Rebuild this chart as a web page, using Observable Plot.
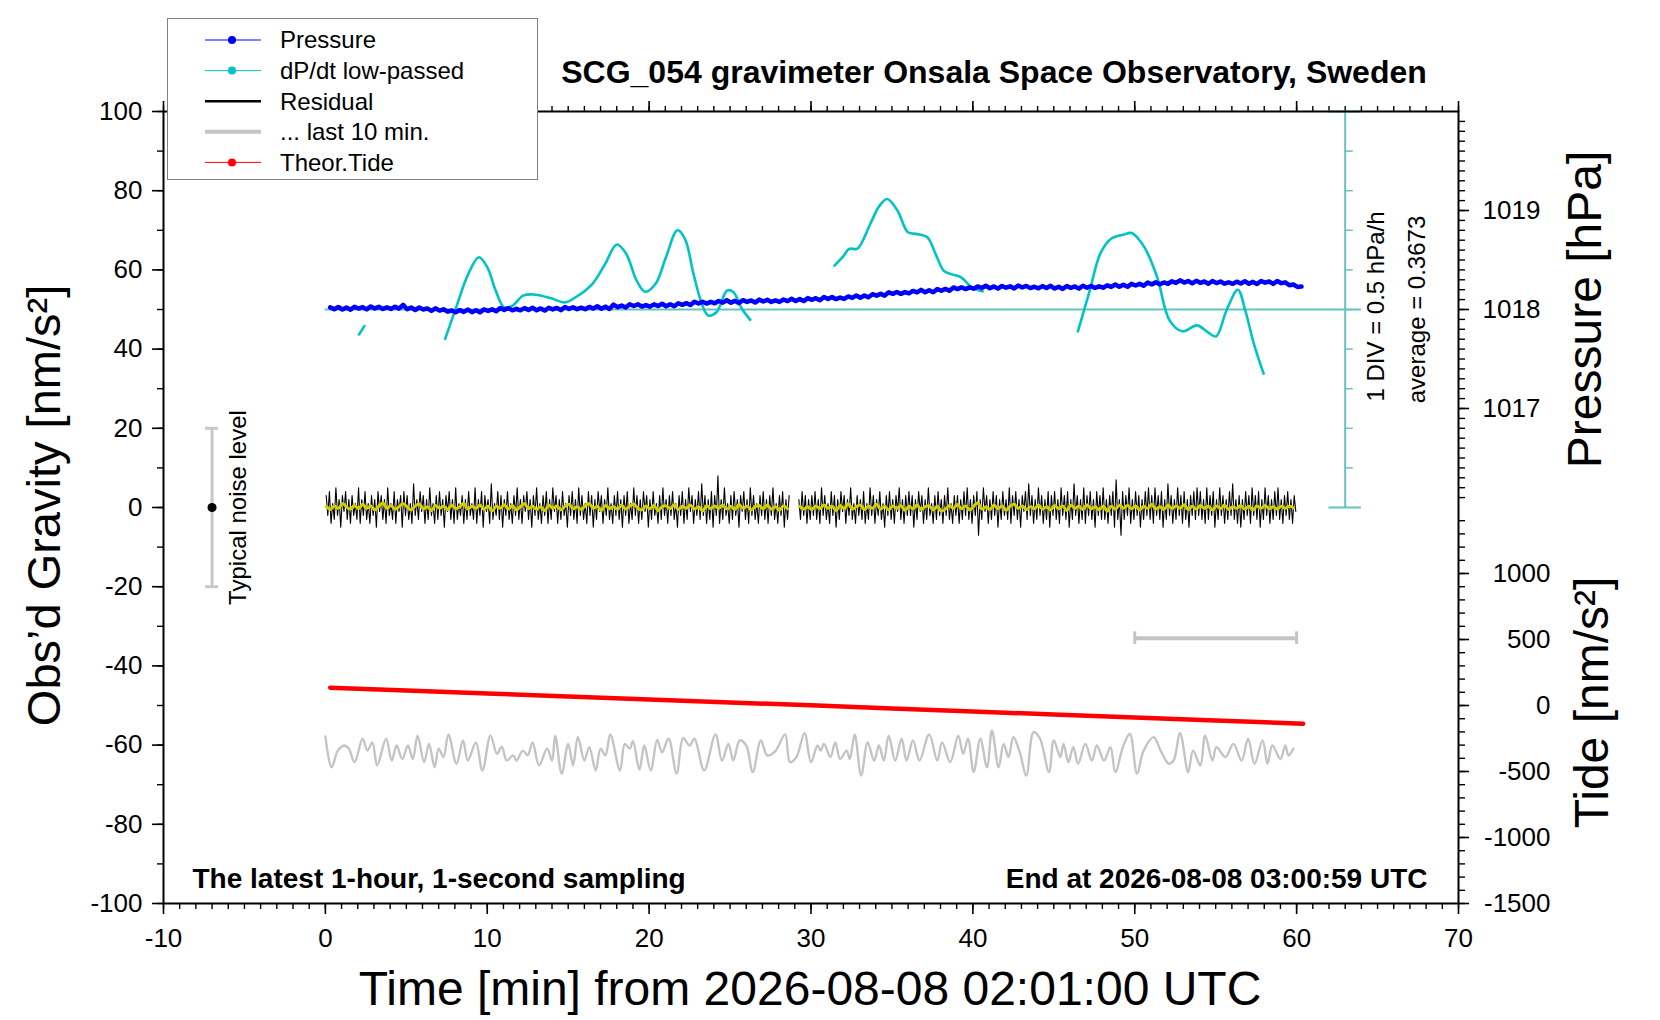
<!DOCTYPE html>
<html><head><meta charset="utf-8">
<script src="https://cdn.jsdelivr.net/npm/d3@7"></script>
<script src="https://cdn.jsdelivr.net/npm/@observablehq/plot@0.6"></script>
<style>
html,body{margin:0;padding:0;background:#fff;}
#wrap{position:relative;width:1660px;height:1020px;font-family:"Liberation Sans",Arial,sans-serif;}
#legend{position:absolute;left:167px;top:18px;width:371px;height:162px;border:1px solid #808080;background:#fff;box-sizing:border-box;}
</style></head><body><div id="wrap"></div>
<script>
// ---------------- texts ----------------
const TITLE = "SCG_054 gravimeter Onsala Space Observatory, Sweden";
const X_TITLE = "Time [min] from 2026-08-08 02:01:00 UTC";
const Y_TITLE = "Obs\u2019d Gravity [nm/s\u00b2]";
const P_TITLE = "Pressure [hPa]";
const TIDE_TITLE = "Tide [nm/s\u00b2]";
const NOTE_LEFT = "The latest 1-hour, 1-second sampling";
const NOTE_RIGHT = "End at 2026-08-08 03:00:59 UTC";
const NOISE_LABEL = "Typical noise level";
const DIV_LABEL = "1 DIV = 0.5 hPa/h";
const LEGEND_LABELS = ["Pressure", "dP/dt low-passed", "Residual", "... last 10 min.", "Theor.Tide"];

// ---------------- ticks ----------------
const X_MAJOR = [-10, 0, 10, 20, 30, 40, 50, 60, 70];
const G_MAJOR = [-100, -80, -60, -40, -20, 0, 20, 40, 60, 80, 100];
const P_MAJOR = [1017, 1018, 1019];
const T_MAJOR = [-1500, -1000, -500, 0, 500, 1000];

// ---------------- scale relations ----------------
const P_REF = 1018, P_REF_G = 50, G_PER_HPA = 25;        // pressure axis
const TIDE_REF_G = -50, TIDE_PER_G = 30;                   // tide axis
const DPDT_AVG = 0.3673, DPDT_DIV = 0.5, G_PER_DIV = 10;   // dP/dt scale bar
const DPDT_BAR_T = 63;

// ---------------- data ----------------
// Pressure (hPa), sampled every 0.25 min from t = 0.3 min
const P_T0 = 0.3, P_DT = 0.25;
const PRESSURE = [
1018.021,1018.003,1018.026,1018.000,1018.019,1017.998,1018.027,1018.010,1018.024,1018.001,
1018.031,1018.010,1018.027,1018.006,1018.021,1018.006,1018.028,1018.009,1018.047,1018.002,
1018.020,1017.995,1018.020,1018.000,1018.011,1017.986,1018.012,1017.989,1018.002,1017.978,
1017.990,1017.972,1017.994,1017.976,1017.999,1017.973,1017.992,1017.971,1018.001,1017.986,
1018.002,1017.982,1018.014,1017.996,1018.013,1017.992,1018.007,1017.992,1018.014,1017.996,
1018.018,1017.992,1018.011,1017.989,1018.018,1018.001,1018.016,1017.994,1018.025,1018.006,
1018.023,1018.003,1018.018,1018.003,1018.026,1018.009,1018.033,1018.008,1018.029,1018.005,
1018.050,1018.024,1018.040,1018.021,1018.053,1018.035,1018.052,1018.030,1018.045,1018.029,
1018.052,1018.035,1018.058,1018.033,1018.053,1018.033,1018.063,1018.047,1018.064,1018.045,
1018.078,1018.060,1018.079,1018.060,1018.077,1018.063,1018.086,1018.069,1018.093,1018.068,
1018.087,1018.066,1018.094,1018.077,1018.091,1018.070,1018.100,1018.081,1018.098,1018.077,
1018.092,1018.077,1018.101,1018.085,1018.109,1018.085,1018.105,1018.085,1018.115,1018.098,
1018.114,1018.094,1018.126,1018.107,1018.125,1018.105,1018.121,1018.107,1018.132,1018.117,
1018.142,1018.119,1018.141,1018.123,1018.155,1018.140,1018.158,1018.140,1018.174,1018.158,
1018.177,1018.158,1018.176,1018.163,1018.188,1018.173,1018.198,1018.174,1018.195,1018.175,
1018.206,1018.190,1018.208,1018.189,1018.223,1018.206,1018.225,1018.206,1018.223,1018.210,
1018.233,1018.217,1018.240,1018.215,1018.233,1018.211,1018.238,1018.220,1018.234,1018.212,
1018.242,1018.222,1018.238,1018.216,1018.230,1018.214,1018.236,1018.217,1018.239,1018.212,
1018.230,1018.208,1018.237,1018.219,1018.233,1018.211,1018.240,1018.220,1018.238,1018.218,
1018.234,1018.220,1018.244,1018.228,1018.253,1018.229,1018.249,1018.229,1018.259,1018.242,
1018.259,1018.239,1018.272,1018.254,1018.274,1018.255,1018.273,1018.260,1018.285,1018.270,
1018.295,1018.272,1018.288,1018.264,1018.290,1018.270,1018.283,1018.260,1018.288,1018.267,
1018.283,1018.261,1018.275,1018.259,1018.281,1018.263,1018.286,1018.260,1018.279,1018.258,
1018.288,1018.271,1018.283,1018.259,1018.288,1018.266,1018.274,1018.245,1018.252,1018.228,
1018.232];

// dP/dt low-passed (hPa/h), four pieces
const DPDT_SEG = [1,1,1,
 2,2,2,2,2,2,2,2,2,2,2,2,2,2,2,2,2,2,2,2,2,2,2,2,2,2,2,2,2,2,2,
 3,3,3,3,3,3,3,3,3,3,3,3,3,3,3,3,3,
 4,4,4,4,4,4,4,4,4,4,4,4,4,4,4,4,4,4];
const DPDT_T = [2.07,2.25,2.41,
 7.40,8.05,8.83,9.48,10.0,10.52,11.04,11.56,12.21,12.86,13.9,14.8,15.46,16.5,17.28,18.0,18.58,19.23,19.75,20.4,21.04,21.75,22.22,22.74,23.26,23.65,24.16,24.82,25.2,25.73,26.25,
 31.45,32.0,32.36,32.87,33.66,34.2,34.7,35.34,35.99,36.5,37.17,37.7,38.2,38.6,39.25,39.94,40.6,
 46.49,47.22,47.87,48.52,49.3,49.81,50.6,51.38,52.16,52.94,53.85,54.5,55.02,55.66,56.37,56.83,57.36,57.96];
const DPDT_V = [0.052,0.107,0.157,
 -0.003,0.377,0.817,1.027,0.902,0.607,0.397,0.417,0.542,0.557,0.512,0.457,0.522,0.692,0.942,1.187,1.072,0.732,0.592,0.692,1.027,1.367,1.257,0.817,0.437,0.292,0.332,0.607,0.587,0.377,0.237,
 0.922,1.042,1.132,1.137,1.447,1.667,1.762,1.617,1.342,1.322,1.282,1.067,0.857,0.817,0.777,0.647,0.597,
 0.092,0.607,1.072,1.257,1.312,1.332,1.152,0.777,0.227,0.092,0.167,0.082,0.027,0.352,0.617,0.352,-0.068,-0.443];

// Residual (nm/s^2), every 0.1 min from t = 0.05 min (null = no data)
const R_T0 = 0.05, R_DT = 0.1;
const RESIDUAL = [
3,-2,4,-4,1,-3,5,-2,2,-5,3,-1,4,-3,2,-4,3,-2,1,-3,5,-4,2,-2,4,-3,1,-4,3,-2,
2,-5,4,-1,3,-3,2,-4,5,-2,1,-3,4,-4,2,-1,3,-5,4,-2,3,-3,1,-4,6,-2,2,-3,4,-1,
3,-4,2,-3,5,-2,1,-4,3,-3,4,-2,2,-5,3,-1,4,-3,2,-4,5,-3,1,-2,3,-4,2,-3,4,-2,
1,-3,5,-4,2,-2,4,-5,3,-1,2,-4,6,-3,1,-2,4,-3,3,-5,2,-2,4,-3,1,-4,3,-2,5,-3,
2,-4,3,-1,4,-3,2,-5,3,-2,5,-3,1,-4,3,-2,4,-4,2,-3,5,-1,3,-4,2,-3,4,-2,1,-5,
3,-2,4,-3,2,-4,5,-2,3,-3,1,-4,4,-2,3,-5,2,-3,4,-1,3,-4,2,-2,5,-3,1,-4,3,-2,
4,-3,2,-5,3,-2,4,-4,1,-3,5,-2,3,-4,2,-3,4,-1,3,-5,2,-3,4,-2,1,-4,3,-3,5,-2,
2,-4,3,-2,4,-3,1,-5,3,-2,4,-4,2,-3,5,-1,3,-4,2,-2,4,-3,6,-2,3,-4,2,-3,4,-5,
3,-2,8,-4,2,-3,5,-2,1,-4,3,-3,4,-2,2,-5,3,-1,4,-3,2,-4,5,-2,3,-3,1,-4,3,-2,
4,-3,2,-4,3,-2,5,-3,1,-4,3,-2,4,-5,2,-3,3,null,null,null,null,null,2,-3,4,-2,3,-4,2,-3,
3,-2,4,-3,2,-4,5,-2,3,-3,1,-4,4,-2,3,-5,2,-3,4,-1,3,-4,2,-2,5,-3,1,-4,3,-2,
2,-3,4,-4,1,-3,5,-2,3,-4,2,-2,4,-3,1,-5,3,-2,4,-3,2,-4,3,-1,5,-3,2,-4,3,-2,
4,-2,3,-5,2,-3,4,-1,3,-4,2,-3,5,-2,1,-4,3,-3,4,-2,2,-4,3,-2,5,-3,1,-4,3,-2,
3,-4,2,-3,4,-2,5,-3,2,-4,3,-2,4,-7,2,-3,5,-1,3,-4,2,-3,4,-2,3,-5,2,-3,4,-2,
2,-3,5,-4,3,-2,4,-3,2,-5,3,-1,4,-3,6,-2,3,-4,2,-3,5,-2,3,-4,2,-3,4,-5,3,-2,
4,-3,2,-4,5,-2,3,-3,4,-5,2,-3,6,-2,3,-4,2,-3,5,-4,3,-2,4,-3,2,-5,4,-2,3,-3,
5,-3,2,-4,3,-2,4,-5,7,-3,2,-7,4,-3,3,-2,5,-4,2,-3,4,-2,3,-5,2,-3,4,-2,5,-3,
3,-4,5,-2,3,-3,4,-5,2,-3,6,-2,3,-4,2,-3,5,-2,3,-4,4,-3,2,-5,3,-2,4,-3,5,-2,
4,-3,2,-4,5,-3,3,-2,4,-5,2,-3,5,-2,3,-4,2,-3,4,-2,6,-3,2,-4,3,-5,2,-3,4,-2,
3,-4,5,-2,3,-3,4,-5,2,-3,5,-2,3,-4,2,-3,4,-2,5,-3,2,-4,3,-2,4,-3,2,-4,3,-1];

// Smoothed residual (yellow), every 0.25 min from t = 0.05 min
const S_T0 = 0.05, S_DT = 0.25;
const SMOOTH = [
0.3,-0.5,0.4,-0.2,1.0,0.2,-0.4,0.5,-0.3,0.8,-0.2,0.4,-0.6,0.3,1.2,-0.2,0.5,-0.4,0.2,1.0,
0.1,-0.6,0.4,0.9,-0.3,0.2,-0.8,0.5,-0.2,0.3,-0.5,0.6,-0.3,0.2,1.1,-0.4,0.3,-0.2,0.6,-0.5,
0.4,-0.9,0.3,-0.2,0.7,-0.4,0.5,-0.6,0.2,1.0,-0.3,0.4,-0.5,0.2,-0.8,0.6,-0.2,0.4,-0.6,0.3,
0.8,-0.3,0.2,-0.5,0.4,1.0,-0.2,0.3,-0.7,0.5,-0.3,0.2,-0.5,0.6,-0.4,0.3,0.9,-0.2,-0.6,0.4,
-0.3,0.5,-0.8,0.2,0.4,-0.3,0.7,-0.5,0.3,-0.2,0.6,-0.4,0.2,-0.9,0.5,-0.3,0.4,-0.2,0.6,-0.4,
0.3,-0.5,0.8,-0.2,0.4,-0.6,0.2,0.5,-0.3,0.6,-0.4,0.2,-0.7,0.4,-0.3,null,null,0.3,-0.4,0.2,
-0.5,0.4,-0.3,0.6,-0.2,0.3,-0.8,0.5,-0.3,1.0,-0.4,0.2,0.6,-0.5,0.3,-0.2,0.8,-0.4,0.3,-0.6,
0.4,-0.2,0.5,-0.7,0.3,-0.3,0.6,-0.5,0.2,0.4,-0.6,0.3,-0.9,-0.4,0.5,-0.2,0.8,-0.3,0.4,-0.6,
0.3,1.2,-0.4,0.2,-0.5,0.6,-0.3,0.4,-0.7,0.3,0.8,-0.2,0.4,-0.5,0.2,-0.3,0.6,-0.4,0.2,-0.6,
0.5,-0.3,0.4,-0.8,0.6,-0.2,0.3,-0.5,0.7,-0.3,0.2,-0.6,0.4,-0.9,0.3,-0.4,0.6,-0.2,0.5,-0.3,
0.4,-0.6,0.3,-0.2,0.8,-0.4,0.2,-0.5,0.6,-0.3,0.4,-0.2,0.7,-0.5,0.3,-0.4,0.5,-0.2,0.3,-0.6,
0.4,-0.3,0.6,-0.5,0.2,-0.2,0.5,-0.4,0.3,-0.6,0.4,-0.2,0.5,-0.3,0.2,-0.4,0.3,-0.2,0.4,-0.1];

// "... last 10 min." trace, plotted on the gravity axis (nm/s^2)
const LAST10_T = [0.0,0.38,0.77,1.16,1.45,1.8,2.3,2.6,2.9,3.2,3.75,4.1,4.4,4.75,5.1,5.4,5.7,6.1,6.4,6.75,7.0,7.3,7.6,8.1,8.5,8.8,9.3,9.7,10.2,10.6,10.9,11.2,11.6,11.8,12.2,12.5,12.8,13.2,13.7,14.0,14.2,14.6,15.0,15.3,15.6,16.0,16.3,16.7,17.0,17.3,17.6,18.2,18.5,18.8,19.0,19.4,19.7,20.1,20.5,20.8,21.2,21.7,22.1,22.5,22.8,23.4,24.1,24.5,24.9,25.2,25.6,26.0,26.4,26.9,27.3,27.8,28.4,28.7,29.1,29.6,30.0,30.4,30.6,30.8,31.2,31.5,31.8,32.2,32.4,32.7,33.1,33.5,33.9,34.2,34.5,34.8,35.2,35.6,35.9,36.3,36.7,37.3,37.8,38.1,38.6,39.1,39.4,39.7,40.05,40.46,40.87,41.18,41.59,41.9,42.2,42.5,42.9,43.3,43.75,44.15,44.7,45.0,45.4,45.6,45.9,46.2,46.5,46.95,47.35,47.66,48.1,48.5,48.8,49.3,49.7,50.14,50.55,51.17,51.6,52.1,52.4,52.8,53.3,53.6,54.05,54.35,54.8,55.05,55.6,56.1,56.6,57.0,57.4,57.9,58.2,58.5,59.0,59.3,59.5,59.8];
const LAST10_V = [-57.8,-65.6,-61.4,-60.1,-60.9,-64.3,-58.4,-61.4,-59.3,-65.1,-58.4,-63.9,-60.1,-63.5,-60.1,-63.5,-57.6,-64.3,-59.7,-65.6,-60.9,-63.0,-57.3,-64.7,-58.8,-63.9,-59.3,-66.4,-57.6,-62.2,-60.4,-63.9,-62.6,-63.9,-61.4,-62.6,-59.3,-65.1,-60.9,-63.9,-57.6,-67.2,-59.7,-65.1,-58.0,-63.9,-60.5,-66.4,-60.9,-62.6,-57.3,-66.4,-59.7,-60.9,-59.0,-66.2,-60.1,-66.4,-58.7,-61.8,-58.4,-67.2,-58.2,-60.1,-58.4,-66.4,-57.3,-63.9,-59.7,-63.9,-58.8,-60.1,-66.8,-58.8,-62.6,-61.5,-57.3,-64.3,-63.0,-57.0,-64.3,-60.1,-61.4,-59.7,-63.0,-59.3,-63.5,-61.4,-63.5,-57.3,-67.7,-59.3,-63.9,-60.1,-63.9,-57.6,-63.9,-58.4,-63.9,-58.8,-63.9,-57.3,-63.9,-59.3,-64.3,-57.6,-62.2,-58.4,-66.8,-58.4,-65.6,-56.3,-65.6,-59.7,-63.0,-58.0,-61.8,-67.7,-56.7,-58.4,-66.8,-58.8,-63.0,-59.7,-64.3,-60.5,-64.7,-59.7,-63.9,-60.1,-63.9,-60.5,-66.8,-60.1,-57.2,-67.2,-61.4,-58.0,-61.4,-64.7,-63.9,-57.0,-66.8,-61.4,-65.1,-57.6,-63.9,-60.5,-63.0,-59.7,-63.9,-58.4,-64.7,-58.8,-64.7,-60.1,-63.5,-60.1,-62.6,-60.9];

// Theoretical tide (nm/s^2)
const TIDE_T = [0.3, 5, 10, 15, 20, 25, 30, 35, 40, 45, 50, 55, 60.4];
const TIDE_V = [135, 113, 91, 68, 46, 23, 1, -22, -45, -68, -91, -114, -138];

// Typical noise level and 10-minute marker
const NOISE_T = -7, NOISE_HALF = 20;
const TENMIN_T = [50, 60], TENMIN_G = -33;

// ---------------- colours ----------------
const C = {pressure:"#0000ff", dpdt:"#00c4c4", bar:"#66c2bf", resid:"#000000", smooth:"#d0d000",
           last:"#c4c4c4", tide:"#ff0000", noise:"#c8c8c8"};
const FONT = "'Liberation Sans', Arial, Helvetica, sans-serif";

// ---------------- conversions ----------------
const pToG = p => P_REF_G + (p - P_REF) * G_PER_HPA;
const gToP = g => P_REF + (g - P_REF_G) / G_PER_HPA;
const tideToG = v => TIDE_REF_G + v / TIDE_PER_G;
const gToTide = g => (g - TIDE_REF_G) * TIDE_PER_G;
const dpToG = v => P_REF_G + (v - DPDT_AVG) / DPDT_DIV * G_PER_DIV;

const pressure = PRESSURE.map((p, i) => ({t: P_T0 + i * P_DT, g: pToG(p)}));
const dpdt = DPDT_T.map((t, i) => ({t, g: dpToG(DPDT_V[i]), seg: DPDT_SEG[i]}));
const resid = RESIDUAL.map((v, i) => ({t: R_T0 + i * R_DT, g: v}));
const smooth = SMOOTH.map((v, i) => ({t: S_T0 + i * S_DT, g: v}));
const last10 = LAST10_T.map((t, i) => ({t, g: LAST10_V[i]}));
const tide = TIDE_T.map((t, i) => ({t, g: tideToG(TIDE_V[i])}));

const X_MINOR = d3.range(X_MAJOR[0], X_MAJOR[X_MAJOR.length - 1] + 0.5, 1);
const G_MINOR = d3.range(-100, 100.5, 10);
const P_MINOR = d3.range(10161, 10200).map(v => v / 10);
const T_MINOR = d3.range(-1500, 1401, 100);
const barLo = dpToG(DPDT_AVG - 5 * DPDT_DIV), barHi = dpToG(DPDT_AVG + 5 * DPDT_DIV);
const barTicks = d3.range(1, 10).map(k => dpToG(DPDT_AVG - 5 * DPDT_DIV + k * DPDT_DIV));

const empty = () => "";
const plain = d => String(d);
const txt = d => d;

const chart = Plot.plot({
  width: 1660, height: 1020,
  marginLeft: 163, marginRight: 202, marginTop: 111, marginBottom: 117,
  x: {domain: [-10, 70]},
  y: {domain: [-100, 100]},
  style: {fontFamily: FONT, background: "white", color: "black", overflow: "visible"},
  marks: [
    // axes
    Plot.axisX({anchor: "bottom", ticks: X_MINOR, tickSize: 6, tickFormat: empty, label: null, strokeWidth: 1.4}),
    Plot.axisX({anchor: "bottom", ticks: X_MAJOR, tickSize: 11, tickPadding: 14, fontSize: 26, label: null, strokeWidth: 1.6, tickFormat: plain}),
    Plot.axisX({anchor: "top", ticks: X_MINOR, tickSize: 6, tickFormat: empty, label: null, strokeWidth: 1.4}),
    Plot.axisX({anchor: "top", ticks: X_MAJOR, tickSize: 11, tickFormat: empty, label: null, strokeWidth: 1.6}),
    Plot.axisY({anchor: "left", ticks: G_MINOR, tickSize: 6, tickFormat: empty, label: null, strokeWidth: 1.4}),
    Plot.axisY({anchor: "left", ticks: G_MAJOR, tickSize: 11, tickPadding: 10, fontSize: 26, label: null, strokeWidth: 1.6, tickFormat: plain}),
    Plot.axisY({anchor: "right", ticks: P_MINOR.map(pToG), tickSize: 6, tickFormat: empty, label: null, strokeWidth: 1.4}),
    Plot.axisY({anchor: "right", ticks: P_MAJOR.map(pToG), tickSize: 10, tickPadding: 14, fontSize: 26, label: null, strokeWidth: 1.6,
      tickFormat: g => String(Math.round(gToP(g)))}),
    Plot.axisY({anchor: "right", ticks: T_MINOR.map(tideToG), tickSize: 6, tickFormat: empty, label: null, strokeWidth: 1.4}),
    Plot.axisY({anchor: "right", ticks: T_MAJOR.map(tideToG), tickSize: 10, tickPadding: 82, textAnchor: "end", fontSize: 26, label: null, strokeWidth: 1.6,
      tickFormat: g => String(Math.round(gToTide(g)))}),

    // dP/dt scale bar and zero line
    Plot.ruleY([P_REF_G], {x1: 0, x2: DPDT_BAR_T + 1, stroke: C.bar, strokeWidth: 2}),
    Plot.ruleX([DPDT_BAR_T], {y1: barLo, y2: barHi, stroke: C.bar, strokeWidth: 2}),
    Plot.ruleY([barLo, barHi], {x1: DPDT_BAR_T - 1, x2: DPDT_BAR_T + 1, stroke: C.bar, strokeWidth: 2}),
    Plot.ruleY(barTicks, {x1: DPDT_BAR_T, x2: DPDT_BAR_T + 0.5, stroke: C.bar, strokeWidth: 1.5}),

    // typical noise level
    Plot.ruleX([NOISE_T], {y1: -NOISE_HALF, y2: NOISE_HALF, stroke: C.noise, strokeWidth: 3}),
    Plot.ruleY([-NOISE_HALF, NOISE_HALF], {x1: NOISE_T - 0.4, x2: NOISE_T + 0.4, stroke: C.noise, strokeWidth: 3}),
    Plot.dot([0], {x: NOISE_T, y: d => d, r: 4.5, fill: "black", stroke: "none"}),

    // 10-minute marker
    Plot.ruleY([TENMIN_G], {x1: TENMIN_T[0], x2: TENMIN_T[1], stroke: C.last, strokeWidth: 4}),
    Plot.ruleX(TENMIN_T, {y1: TENMIN_G - 1.6, y2: TENMIN_G + 1.6, stroke: C.last, strokeWidth: 3}),

    // series
    Plot.line(dpdt, {x: "t", y: "g", z: "seg", stroke: C.dpdt, strokeWidth: 2.6, curve: "catmull-rom"}),
    Plot.line(pressure, {x: "t", y: "g", stroke: C.pressure, strokeWidth: 4.5}),
    Plot.line(resid, {x: "t", y: "g", stroke: C.resid, strokeWidth: 1.1}),
    Plot.line(smooth, {x: "t", y: "g", stroke: C.smooth, strokeWidth: 3, curve: "catmull-rom"}),
    Plot.line(last10, {x: "t", y: "g", stroke: C.last, strokeWidth: 2.4, curve: "catmull-rom"}),
    Plot.line(tide, {x: "t", y: "g", stroke: C.tide, strokeWidth: 4.5}),

    Plot.frame({stroke: "black", strokeWidth: 2}),

    // texts
    Plot.text([TITLE], {text: txt, frameAnchor: "top", dx: 183, dy: -29, textAnchor: "middle", lineAnchor: "bottom", fontSize: 32, fontWeight: "bold"}),
    Plot.text([NOTE_LEFT], {text: txt, frameAnchor: "bottom-left", dx: 29, dy: -16, textAnchor: "start", lineAnchor: "bottom", fontSize: 28, fontWeight: "bold"}),
    Plot.text([NOTE_RIGHT], {text: txt, frameAnchor: "bottom-right", dx: -31, dy: -16, textAnchor: "end", lineAnchor: "bottom", fontSize: 28, fontWeight: "bold"}),
    Plot.text([X_TITLE], {text: txt, frameAnchor: "bottom", dx: -1, dy: 101, textAnchor: "middle", lineAnchor: "bottom", fontSize: 48}),
    Plot.text([Y_TITLE], {text: txt, frameAnchor: "left", dx: -119, dy: -2, rotate: -90, textAnchor: "middle", lineAnchor: "middle", fontSize: 47}),
    Plot.text([P_TITLE], {text: txt, frameAnchor: "right", dx: 127, dy: -198, rotate: -90, textAnchor: "middle", lineAnchor: "middle", fontSize: 48}),
    Plot.text([TIDE_TITLE], {text: txt, frameAnchor: "right", dx: 134, dy: 195, rotate: -90, textAnchor: "middle", lineAnchor: "middle", fontSize: 48}),
    Plot.text([DIV_LABEL], {text: txt, frameAnchor: "right", dx: -82, dy: -201, rotate: -90, textAnchor: "middle", lineAnchor: "middle", fontSize: 24}),
    Plot.text(["average = " + DPDT_AVG], {text: txt, frameAnchor: "right", dx: -41, dy: -198, rotate: -90, textAnchor: "middle", lineAnchor: "middle", fontSize: 24}),
    Plot.text([NOISE_LABEL], {text: txt, x: NOISE_T, y: 0, dx: 26, rotate: -90, textAnchor: "middle", lineAnchor: "middle", fontSize: 24})
  ]
});

const wrap = document.getElementById("wrap");
wrap.appendChild(chart);

// legend
const legend = document.createElement("div");
legend.id = "legend";
const kinds = ["dotline", "dotline", "thick", "thick", "dotline"];
const lcolors = [C.pressure, C.dpdt, C.resid, C.last, C.tide];
const lwidths = [1, 1, 2.5, 4, 1];
let svg = '<svg width="369" height="160" xmlns="http://www.w3.org/2000/svg" style="display:block">';
LEGEND_LABELS.forEach((lab, i) => {
  const cy = 21 + i * 30.6;
  svg += `<line x1="37" x2="93" y1="${cy}" y2="${cy}" stroke="${lcolors[i]}" stroke-width="${lwidths[i]}"/>`;
  if (kinds[i] === "dotline") svg += `<circle cx="64" cy="${cy}" r="4" fill="${lcolors[i]}"/>`;
  svg += `<text x="112" y="${cy}" dy="0.35em" font-family="${FONT.replace(/'/g, "")}" font-size="24" fill="black">${lab}</text>`;
});
svg += "</svg>";
legend.innerHTML = svg;
wrap.appendChild(legend);
</script></body></html>
